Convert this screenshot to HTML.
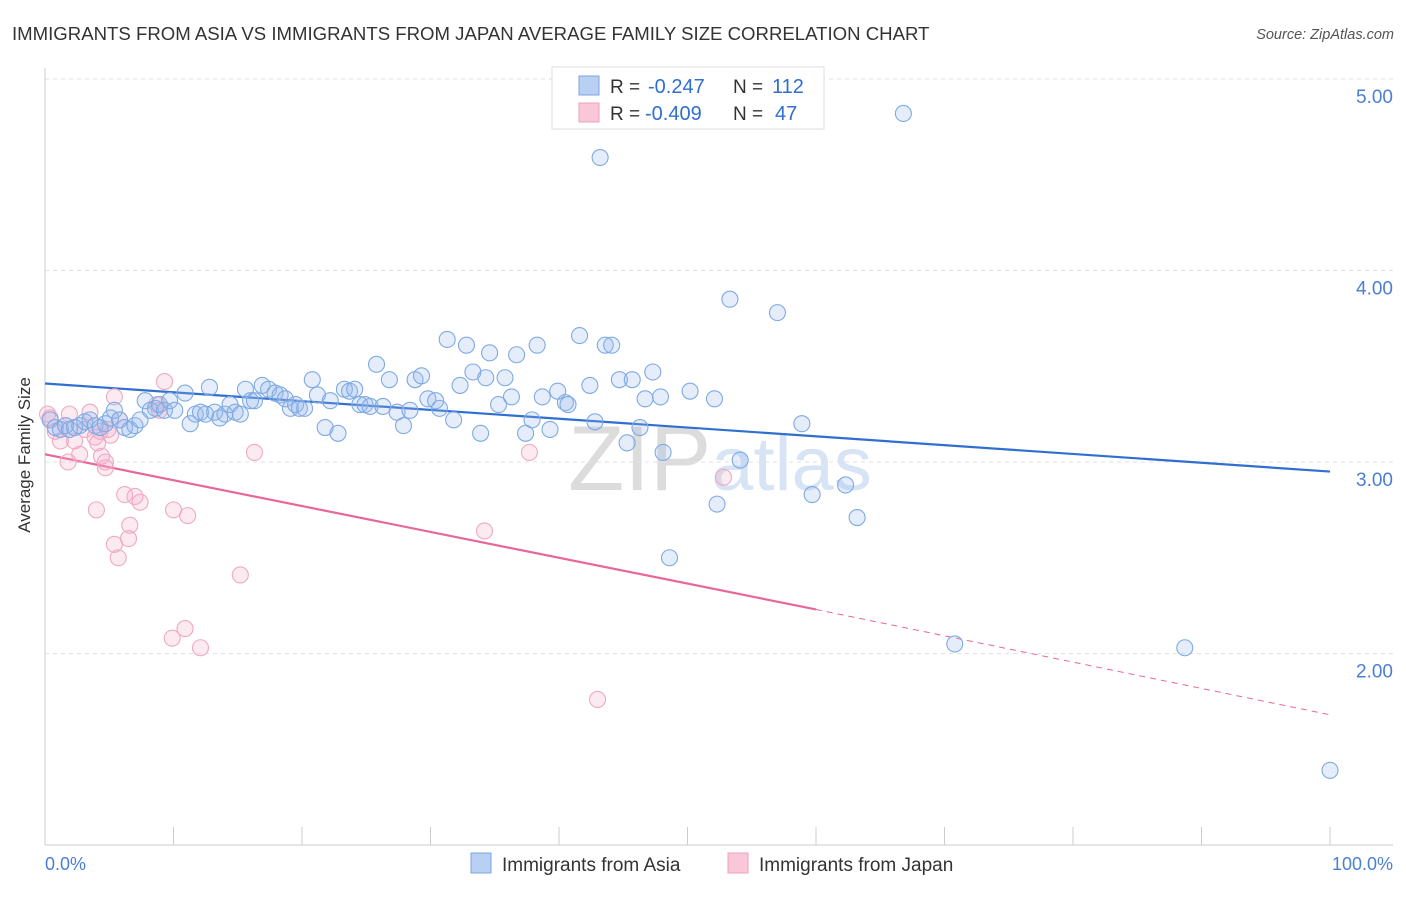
<!DOCTYPE html>
<html><head><meta charset="utf-8">
<style>
body{margin:0;background:#fff;font-family:"Liberation Sans",sans-serif;}
svg text{font-family:"Liberation Sans",sans-serif;}
</style></head>
<body>
<svg id="chart" width="1406" height="892" xmlns="http://www.w3.org/2000/svg">
<text x="12" y="40" font-size="18.6" fill="#333">IMMIGRANTS FROM ASIA VS IMMIGRANTS FROM JAPAN AVERAGE FAMILY SIZE CORRELATION CHART</text>
<text x="1394" y="39" font-size="14.5" fill="#555" font-style="italic" text-anchor="end">Source: ZipAtlas.com</text>
<text x="720" y="490" font-size="92" fill="#e6e6e6" text-anchor="middle" font-family="Liberation Serif"><tspan fill="#dcdcdc">ZIP</tspan><tspan fill="#d6e4f5" font-family="Liberation Sans" font-size="76">atlas</tspan></text>
<g id="grid"></g>
<g id="axes"></g>
<g id="lines"></g>
<g id="pts"></g>
<text x="30" y="455" font-size="17" fill="#333" text-anchor="middle" transform="rotate(-90 30 455)">Average Family Size</text>
<text x="45" y="870" font-size="18" fill="#4a7fd4">0.0%</text>
<text x="1393" y="870" font-size="18" fill="#4a7fd4" text-anchor="end">100.0%</text>
<g>
<rect x="552" y="67" width="272" height="62" fill="#fff" stroke="#ddd"/>
<rect x="579" y="76" width="20" height="19" fill="#b8d0f2" stroke="#7aa6e0"/>
<rect x="579" y="103" width="20" height="19" fill="#f9c7d8" stroke="#eea0bd"/>
<text x="610" y="93" font-size="19" fill="#333">R =</text>
<text x="648" y="93" font-size="20" fill="#2f6fd0">-0.247</text>
<text x="733" y="93" font-size="19" fill="#333">N =</text>
<text x="772" y="93" font-size="20" fill="#2f6fd0">112</text>
<text x="610" y="120" font-size="19" fill="#333">R =</text>
<text x="645" y="120" font-size="20" fill="#2f6fd0">-0.409</text>
<text x="733" y="120" font-size="19" fill="#333">N =</text>
<text x="775" y="120" font-size="20" fill="#2f6fd0">47</text>
</g>
<g>
<rect x="471" y="853" width="20" height="20" fill="#b8d0f2" stroke="#7aa6e0"/>
<text x="502" y="871" font-size="19" fill="#333">Immigrants from Asia</text>
<rect x="728" y="853" width="20" height="20" fill="#f9c7d8" stroke="#eea0bd"/>
<text x="759" y="871" font-size="19" fill="#333">Immigrants from Japan</text>
</g>
</svg>
<script>
const yTicks=[5,4,3,2];
const yTickLabels=["5.00","4.00","3.00","2.00"];
const xTicks=[0,10,20,30,40,50,60,70,80,90,100];
const asiaX=[0.4,0.8,1.2,1.6,1.9,2.3,2.7,3.1,3.5,3.9,4.3,4.7,5.1,5.4,5.8,6.2,6.6,7.0,7.4,7.8,8.2,8.6,8.9,9.3,9.7,10.1,10.9,11.3,11.7,12.1,12.5,12.8,13.2,13.6,14.0,14.4,14.8,15.2,15.6,16.0,16.3,16.9,17.4,17.9,18.3,18.7,19.1,19.5,19.8,20.2,20.8,21.2,21.8,22.2,22.8,23.3,23.7,24.1,24.5,24.9,25.3,25.8,26.3,26.8,27.4,27.9,28.4,28.8,29.3,29.8,30.4,30.7,31.3,31.8,32.3,32.8,33.3,33.9,34.3,34.6,35.3,35.8,36.3,36.7,37.4,37.9,38.3,38.7,39.3,39.9,40.5,40.7,41.6,42.4,42.8,43.2,43.6,44.1,44.7,45.3,45.7,46.3,46.7,47.3,47.9,48.1,48.6,50.2,52.1,52.3,53.3,54.1,57.0,58.9,59.7,62.3,63.2,66.8,70.8,88.7,100];
const asiaY=[3.22,3.18,3.17,3.19,3.17,3.18,3.19,3.21,3.22,3.19,3.18,3.20,3.23,3.27,3.22,3.18,3.17,3.19,3.22,3.32,3.27,3.28,3.30,3.27,3.32,3.27,3.36,3.20,3.25,3.26,3.25,3.39,3.26,3.23,3.25,3.30,3.26,3.25,3.38,3.32,3.32,3.40,3.38,3.36,3.35,3.33,3.28,3.30,3.28,3.28,3.43,3.35,3.18,3.32,3.15,3.38,3.37,3.38,3.30,3.30,3.29,3.51,3.29,3.43,3.26,3.19,3.27,3.43,3.45,3.33,3.32,3.28,3.64,3.22,3.40,3.61,3.47,3.15,3.44,3.57,3.30,3.44,3.34,3.56,3.15,3.22,3.61,3.34,3.17,3.37,3.31,3.30,3.66,3.40,3.21,4.59,3.61,3.61,3.43,3.10,3.43,3.18,3.33,3.47,3.34,3.05,2.50,3.37,3.33,2.78,3.85,3.01,3.78,3.20,2.83,2.88,2.71,4.82,2.05,2.03,1.39];
const japanX=[0.4,0.8,1.2,1.6,1.9,2.3,2.7,3.1,3.5,3.9,4.1,4.3,4.4,4.7,5.1,5.4,5.8,6.2,6.5,6.6,7.0,7.4,8.7,8.9,9.3,10.0,11.1,12.1,10.9,9.9,15.2,16.3,34.2,37.7,43.0,52.8,5.4,5.7,4.0,4.7,1.8,0.2,4.9];
const japanY=[3.23,3.16,3.11,3.19,3.25,3.11,3.04,3.17,3.26,3.13,3.10,3.16,3.03,2.97,3.14,3.34,3.22,2.83,2.60,2.67,2.82,2.79,3.30,3.27,3.42,2.75,2.72,2.03,2.13,2.08,2.41,3.05,2.64,3.05,1.76,2.92,2.57,2.50,2.75,3.00,3.00,3.25,3.17];
const asiaTrend=[[0,3.41],[100,2.95]];
const japanTrend=[[0,3.04],[60,2.23]];
const japanTrendDash=[[60,2.23],[100,1.68]];

const NS="http://www.w3.org/2000/svg";
const X0=45,X1=1330,YTOP=79,YPX=191.5;
const sx=v=>X0+(X1-X0)*v/100;
const sy=v=>YTOP+(5-v)*YPX;
function mk(tag,attrs,parent){const e=document.createElementNS(NS,tag);for(const k in attrs)e.setAttribute(k,attrs[k]);parent.appendChild(e);return e;}
const grid=document.getElementById('grid'),axes=document.getElementById('axes'),lines=document.getElementById('lines'),pts=document.getElementById('pts');
yTicks.forEach((t,i)=>{
  const l=mk('line',{x1:X0,x2:1393,y1:sy(t),y2:sy(t),stroke:'#e2e2e2','stroke-dasharray':'4,4'},grid);
  
  
  const tx=mk('text',{x:1393,y:sy(t)+24,'font-size':19,fill:'#4a7fd4','text-anchor':'end'},grid);
  tx.textContent=yTickLabels[i];
  
  
});
const ya=mk('line',{x1:X0,x2:X0,y1:68,y2:845,stroke:'#ccc'},axes);


const xa=mk('line',{x1:X0,x2:1393,y1:845,y2:845,stroke:'#ccc'},axes);


xTicks.forEach(t=>{
  const l=mk('line',{x1:sx(t),x2:sx(t),y1:827,y2:845,stroke:'#ccc'},axes);
  
  
});
function dot(x,y,cls){
  const c=mk('circle',{cx:sx(x),cy:sy(y),r:8,fill:cls=='a'?'rgba(150,185,235,0.25)':'rgba(245,170,200,0.25)',stroke:cls=='a'?'#7eaae4':'#f0a8c3','stroke-width':1.1},pts);
  
  
}
japanX.forEach((x,i)=>dot(x,japanY[i],'j'));
asiaX.forEach((x,i)=>dot(x,asiaY[i],'a'));
function ln(p,col,dash,name){
  const l=mk('line',{x1:sx(p[0][0]),y1:sy(p[0][1]),x2:sx(p[1][0]),y2:sy(p[1][1]),stroke:col,'stroke-width':dash?1:2.2},lines);
  if(dash)l.setAttribute('stroke-dasharray','6,5');
  
  
}
ln(asiaTrend,'#2f6fd0',false,'asia-trend-line');
ln(japanTrend,'#e8679a',false,'japan-trend-line');
ln(japanTrendDash,'#e8679a',true,'japan-trend-extension');
</script>
</body></html>
